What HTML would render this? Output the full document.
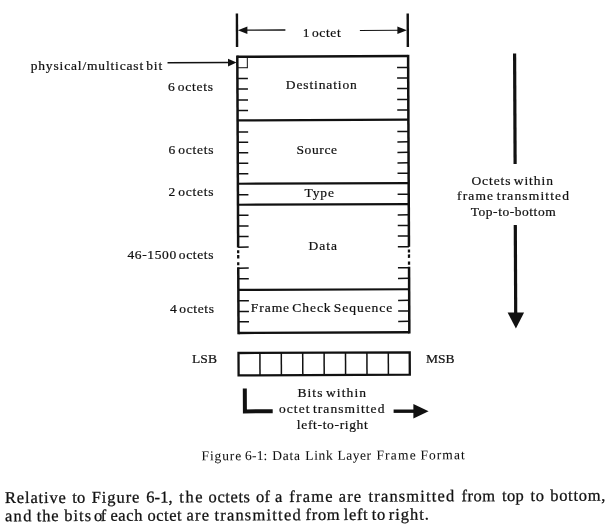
<!DOCTYPE html>
<html><head><meta charset="utf-8"><title>Figure 6-1: Data Link Layer Frame Format</title>
<style>
html,body{margin:0;padding:0;background:#fff;}
body{width:615px;height:527px;overflow:hidden;position:relative;font-family:"Liberation Serif",serif;color:#111;}
svg{position:absolute;left:0;top:0;filter:grayscale(1);}
svg text{font-family:"Liberation Serif",serif;fill:#111;stroke:#111;stroke-width:0.22px;}
svg text.par{stroke-width:0.28px;}
svg text.cap{stroke-width:0.05px;}
</style></head><body>
<svg width="615" height="527" viewBox="0 0 615 527">
<line x1="236.91" y1="13.55" x2="237.06" y2="47.05" stroke="#111" stroke-width="2.4"/>
<line x1="407.71" y1="13.57" x2="407.86" y2="47.07" stroke="#111" stroke-width="2.4"/>
<line x1="244.88" y1="30.12" x2="285.38" y2="29.96" stroke="#111" stroke-width="1.4"/>
<polygon points="237.88,30.15 247.37,26.41 247.4,33.91" fill="#111"/>
<line x1="359.89" y1="30.46" x2="399.89" y2="30.3" stroke="#111" stroke-width="1.1"/>
<polygon points="406.89,30.27 397.37,26.61 397.4,34.01" fill="#111"/>
<text x="302.7" y="37.3" font-size="13.5" textLength="38" lengthAdjust="spacing" word-spacing="-2">1 octet</text>
<line x1="237.3" y1="55.55" x2="238.16" y2="247.55" stroke="#111" stroke-width="2.5"/>
<line x1="238.25" y1="267.35" x2="238.55" y2="334.15" stroke="#111" stroke-width="2.5"/>
<line x1="238.17" y1="250.25" x2="238.19" y2="253.15" stroke="#111" stroke-width="2.3"/>
<line x1="238.19" y1="255.05" x2="238.21" y2="258.55" stroke="#111" stroke-width="2.3"/>
<line x1="238.23" y1="262.15" x2="238.24" y2="265.35" stroke="#111" stroke-width="2.3"/>
<line x1="408.1" y1="54.87" x2="408.96" y2="246.87" stroke="#111" stroke-width="2.5"/>
<line x1="409.05" y1="266.67" x2="409.35" y2="333.47" stroke="#111" stroke-width="2.5"/>
<line x1="408.97" y1="249.57" x2="408.99" y2="252.47" stroke="#111" stroke-width="2.3"/>
<line x1="408.99" y1="254.37" x2="409.01" y2="257.87" stroke="#111" stroke-width="2.3"/>
<line x1="409.03" y1="261.47" x2="409.04" y2="264.67" stroke="#111" stroke-width="2.3"/>
<line x1="237.3" y1="56.75" x2="408.1" y2="56.07" stroke="#111" stroke-width="2.4"/>
<line x1="238.54" y1="332.95" x2="409.34" y2="332.27" stroke="#111" stroke-width="2.4"/>
<line x1="237.59" y1="120.35" x2="408.39" y2="119.67" stroke="#111" stroke-width="2.2"/>
<line x1="237.87" y1="183.75" x2="408.67" y2="183.07" stroke="#111" stroke-width="2.2"/>
<line x1="237.97" y1="204.75" x2="408.77" y2="204.07" stroke="#111" stroke-width="2.2"/>
<line x1="238.35" y1="289.95" x2="409.15" y2="289.27" stroke="#111" stroke-width="2.2"/>
<line x1="237.35" y1="67.75" x2="247.35" y2="67.71" stroke="#111" stroke-width="1"/>
<line x1="247.3" y1="56.71" x2="247.35" y2="68.21" stroke="#111" stroke-width="1"/>
<line x1="237.4" y1="78.45" x2="247.9" y2="78.41" stroke="#111" stroke-width="1.5"/>
<line x1="237.45" y1="89.05" x2="247.95" y2="89.01" stroke="#111" stroke-width="1.5"/>
<line x1="237.5" y1="99.95" x2="248.0" y2="99.91" stroke="#111" stroke-width="1.5"/>
<line x1="237.54" y1="110.55" x2="248.04" y2="110.51" stroke="#111" stroke-width="1.5"/>
<line x1="237.64" y1="131.95" x2="248.14" y2="131.91" stroke="#111" stroke-width="1.5"/>
<line x1="237.69" y1="142.35" x2="248.19" y2="142.31" stroke="#111" stroke-width="1.5"/>
<line x1="237.73" y1="152.85" x2="248.23" y2="152.81" stroke="#111" stroke-width="1.5"/>
<line x1="237.78" y1="163.35" x2="248.28" y2="163.31" stroke="#111" stroke-width="1.5"/>
<line x1="237.83" y1="173.75" x2="248.33" y2="173.71" stroke="#111" stroke-width="1.5"/>
<line x1="237.92" y1="194.75" x2="248.42" y2="194.71" stroke="#111" stroke-width="1.5"/>
<line x1="238.02" y1="215.35" x2="248.52" y2="215.31" stroke="#111" stroke-width="1.5"/>
<line x1="238.06" y1="225.95" x2="248.56" y2="225.91" stroke="#111" stroke-width="1.5"/>
<line x1="238.11" y1="236.55" x2="248.61" y2="236.51" stroke="#111" stroke-width="1.5"/>
<line x1="238.16" y1="247.15" x2="248.66" y2="247.11" stroke="#111" stroke-width="1.5"/>
<line x1="238.25" y1="268.15" x2="248.75" y2="268.11" stroke="#111" stroke-width="1.5"/>
<line x1="238.3" y1="278.85" x2="248.8" y2="278.81" stroke="#111" stroke-width="1.5"/>
<line x1="238.4" y1="300.85" x2="248.9" y2="300.81" stroke="#111" stroke-width="1.5"/>
<line x1="238.45" y1="311.45" x2="248.95" y2="311.41" stroke="#111" stroke-width="1.5"/>
<line x1="238.49" y1="321.85" x2="248.99" y2="321.81" stroke="#111" stroke-width="1.5"/>
<line x1="397.05" y1="67.51" x2="408.15" y2="67.47" stroke="#111" stroke-width="1.5"/>
<line x1="397.1" y1="78.01" x2="408.2" y2="77.97" stroke="#111" stroke-width="1.5"/>
<line x1="397.15" y1="88.61" x2="408.25" y2="88.57" stroke="#111" stroke-width="1.5"/>
<line x1="397.2" y1="99.51" x2="408.3" y2="99.47" stroke="#111" stroke-width="1.5"/>
<line x1="397.24" y1="110.11" x2="408.34" y2="110.07" stroke="#111" stroke-width="1.5"/>
<line x1="397.34" y1="131.51" x2="408.44" y2="131.47" stroke="#111" stroke-width="1.5"/>
<line x1="397.39" y1="141.91" x2="408.49" y2="141.87" stroke="#111" stroke-width="1.5"/>
<line x1="397.44" y1="152.41" x2="408.54" y2="152.37" stroke="#111" stroke-width="1.5"/>
<line x1="397.48" y1="162.91" x2="408.58" y2="162.87" stroke="#111" stroke-width="1.5"/>
<line x1="397.53" y1="173.31" x2="408.63" y2="173.27" stroke="#111" stroke-width="1.5"/>
<line x1="397.62" y1="194.31" x2="408.72" y2="194.27" stroke="#111" stroke-width="1.5"/>
<line x1="397.72" y1="214.91" x2="408.82" y2="214.87" stroke="#111" stroke-width="1.5"/>
<line x1="397.76" y1="225.51" x2="408.86" y2="225.47" stroke="#111" stroke-width="1.5"/>
<line x1="397.81" y1="236.11" x2="408.91" y2="236.07" stroke="#111" stroke-width="1.5"/>
<line x1="397.86" y1="246.71" x2="408.96" y2="246.67" stroke="#111" stroke-width="1.5"/>
<line x1="397.95" y1="267.71" x2="409.05" y2="267.67" stroke="#111" stroke-width="1.5"/>
<line x1="398.0" y1="278.41" x2="409.1" y2="278.37" stroke="#111" stroke-width="1.5"/>
<line x1="398.1" y1="300.41" x2="409.2" y2="300.37" stroke="#111" stroke-width="1.5"/>
<line x1="398.15" y1="311.01" x2="409.25" y2="310.97" stroke="#111" stroke-width="1.5"/>
<line x1="398.2" y1="321.41" x2="409.3" y2="321.37" stroke="#111" stroke-width="1.5"/>
<line x1="167.53" y1="62.73" x2="230.03" y2="62.48" stroke="#111" stroke-width="1.4"/>
<polygon points="236.53,62.55 228.01,58.79 228.04,66.39" fill="#111"/>
<text x="30.7" y="69.8" font-size="13.5" textLength="131.5" lengthAdjust="spacing" word-spacing="-2">physical/multicast bit</text>
<text x="168" y="90.9" font-size="13.5" textLength="45" lengthAdjust="spacing" word-spacing="-2">6 octets</text>
<text x="168.5" y="154.3" font-size="13.5" textLength="45" lengthAdjust="spacing" word-spacing="-2">6 octets</text>
<text x="168.5" y="195.6" font-size="13.5" textLength="45" lengthAdjust="spacing" word-spacing="-2">2 octets</text>
<text x="127.5" y="259.4" font-size="13.5" textLength="86" lengthAdjust="spacing" word-spacing="-2">46-1500 octets</text>
<text x="170" y="312.5" font-size="13.5" textLength="44" lengthAdjust="spacing" word-spacing="-2">4 octets</text>
<text x="285.8" y="88.5" font-size="13.5" textLength="71" lengthAdjust="spacing" word-spacing="-2">Destination</text>
<text x="296.4" y="153.7" font-size="13.5" textLength="40.6" lengthAdjust="spacing" word-spacing="-2">Source</text>
<text x="304.4" y="197.3" font-size="13.5" textLength="29.6" lengthAdjust="spacing" word-spacing="-2">Type</text>
<text x="308.6" y="249.7" font-size="13.5" textLength="28.4" lengthAdjust="spacing" word-spacing="-2">Data</text>
<text x="250.8" y="312.2" font-size="13.5" textLength="141.4" lengthAdjust="spacing" word-spacing="-2">Frame Check Sequence</text>
<line x1="514.6" y1="53.4" x2="515.1" y2="164" stroke="#111" stroke-width="3.2"/>
<text x="471.4" y="184.5" font-size="13.5" textLength="81.5" lengthAdjust="spacing" word-spacing="-2">Octets within</text>
<text x="457" y="200" font-size="13.5" textLength="112" lengthAdjust="spacing" word-spacing="-2">frame transmitted</text>
<text x="470.7" y="215.6" font-size="13.5" textLength="85" lengthAdjust="spacing" word-spacing="-2">Top-to-bottom</text>
<line x1="515.3" y1="225" x2="515.7" y2="314" stroke="#111" stroke-width="3.2"/>
<polygon points="507.6,312.5 524.1,312.5 515.9,328.5" fill="#111"/>
<polygon points="238.5,353.0 409.7,352.32 409.8,374.72 238.6,375.4" fill="none" stroke="#111" stroke-width="2.3"/>
<line x1="259.9" y1="352.91" x2="260.0" y2="375.31" stroke="#111" stroke-width="1.5"/>
<line x1="281.3" y1="352.83" x2="281.4" y2="375.23" stroke="#111" stroke-width="1.5"/>
<line x1="302.7" y1="352.74" x2="302.8" y2="375.14" stroke="#111" stroke-width="1.5"/>
<line x1="324.1" y1="352.66" x2="324.2" y2="375.06" stroke="#111" stroke-width="1.5"/>
<line x1="345.5" y1="352.57" x2="345.6" y2="374.97" stroke="#111" stroke-width="1.5"/>
<line x1="366.9" y1="352.49" x2="367.0" y2="374.89" stroke="#111" stroke-width="1.5"/>
<line x1="388.3" y1="352.4" x2="388.4" y2="374.8" stroke="#111" stroke-width="1.5"/>
<text x="192" y="362.8" font-size="13.5" textLength="25" lengthAdjust="spacing" word-spacing="-2">LSB</text>
<text x="425.9" y="362.9" font-size="13.5" textLength="28.5" lengthAdjust="spacing" word-spacing="-2">MSB</text>
<polyline points="244.8,388.5 244.9,411.4 272.7,411.3" fill="none" stroke="#111" stroke-width="4"/>
<text x="297.4" y="396.6" font-size="13.5" textLength="68.6" lengthAdjust="spacing" word-spacing="-2">Bits within</text>
<text x="279" y="413" font-size="13.5" textLength="105.4" lengthAdjust="spacing" word-spacing="-2">octet transmitted</text>
<text x="296.8" y="428.6" font-size="13.5" textLength="71" lengthAdjust="spacing" word-spacing="-2">left-to-right</text>
<line x1="393.6" y1="411.2" x2="415" y2="411.2" stroke="#111" stroke-width="3.4"/>
<polygon points="413.4,404 413.4,418.4 428.6,411.2" fill="#111"/>
<g transform="rotate(-0.23 201 460.3)">
<text x="201.6" y="460.3" font-size="13.5" textLength="39.6" lengthAdjust="spacing" class="cap">Figure</text>
<text x="245" y="460.3" font-size="13.5" textLength="22.4" lengthAdjust="spacing" class="cap">6-1:</text>
<text x="272.2" y="460.3" font-size="13.5" textLength="27.8" lengthAdjust="spacing" class="cap">Data</text>
<text x="305.3" y="460.3" font-size="13.5" textLength="27.4" lengthAdjust="spacing" class="cap">Link</text>
<text x="337.4" y="460.3" font-size="13.5" textLength="33.6" lengthAdjust="spacing" class="cap">Layer</text>
<text x="376.4" y="460.3" font-size="13.5" textLength="39.3" lengthAdjust="spacing" class="cap">Frame</text>
<text x="420.5" y="460.3" font-size="13.5" textLength="44.2" lengthAdjust="spacing" class="cap">Format</text>
</g>
<g transform="rotate(-0.23 5 503.1)">
<text x="4.9" y="503.1" font-size="16.5" textLength="61.0" lengthAdjust="spacing" class="par">Relative</text>
<text x="72.2" y="503.1" font-size="16.5" textLength="13.1" lengthAdjust="spacing" class="par">to</text>
<text x="91.8" y="503.1" font-size="16.5" textLength="47.6" lengthAdjust="spacing" class="par">Figure</text>
<text x="146.3" y="503.1" font-size="16.5" textLength="26.3" lengthAdjust="spacing" class="par">6-1,</text>
<text x="179.3" y="503.1" font-size="16.5" textLength="23.2" lengthAdjust="spacing" class="par">the</text>
<text x="208.6" y="503.1" font-size="16.5" textLength="41.4" lengthAdjust="spacing" class="par">octets</text>
<text x="256.1" y="503.1" font-size="16.5" textLength="13.9" lengthAdjust="spacing" class="par">of</text>
<text x="275" y="503.1" font-size="16.5" class="par">a</text>
<text x="289.2" y="503.1" font-size="16.5" textLength="43.4" lengthAdjust="spacing" class="par">frame</text>
<text x="338.7" y="503.1" font-size="16.5" textLength="22.5" lengthAdjust="spacing" class="par">are</text>
<text x="368.6" y="503.1" font-size="16.5" textLength="85.6" lengthAdjust="spacing" class="par">transmitted</text>
<text x="461.6" y="503.1" font-size="16.5" textLength="33.6" lengthAdjust="spacing" class="par">from</text>
<text x="502" y="503.1" font-size="16.5" textLength="21.8" lengthAdjust="spacing" class="par">top</text>
<text x="530.5" y="503.1" font-size="16.5" textLength="13.5" lengthAdjust="spacing" class="par">to</text>
<text x="550.2" y="503.1" font-size="16.5" textLength="55.2" lengthAdjust="spacing" class="par">bottom,</text>
</g>
<g transform="rotate(-0.23 5 521.3)">
<text x="4.9" y="521.3" font-size="16.5" textLength="26.5" lengthAdjust="spacing" class="par">and</text>
<text x="36.8" y="521.3" font-size="16.5" textLength="21.9" lengthAdjust="spacing" class="par">the</text>
<text x="64.2" y="521.3" font-size="16.5" textLength="27.0" lengthAdjust="spacing" class="par">bits</text>
<text x="94.1" y="521.3" font-size="16.5" textLength="12.2" lengthAdjust="spacing" class="par">of</text>
<text x="110.4" y="521.3" font-size="16.5" textLength="32.2" lengthAdjust="spacing" class="par">each</text>
<text x="147.4" y="521.3" font-size="16.5" textLength="34.3" lengthAdjust="spacing" class="par">octet</text>
<text x="186.5" y="521.3" font-size="16.5" textLength="22.5" lengthAdjust="spacing" class="par">are</text>
<text x="214.4" y="521.3" font-size="16.5" textLength="86.3" lengthAdjust="spacing" class="par">transmitted</text>
<text x="305.5" y="521.3" font-size="16.5" textLength="34.2" lengthAdjust="spacing" class="par">from</text>
<text x="343.8" y="521.3" font-size="16.5" textLength="23.9" lengthAdjust="spacing" class="par">left</text>
<text x="371.8" y="521.3" font-size="16.5" textLength="13.4" lengthAdjust="spacing" class="par">to</text>
<text x="388.7" y="521.3" font-size="16.5" textLength="40.3" lengthAdjust="spacing" class="par">right.</text>
</g>
</svg>
</body></html>
